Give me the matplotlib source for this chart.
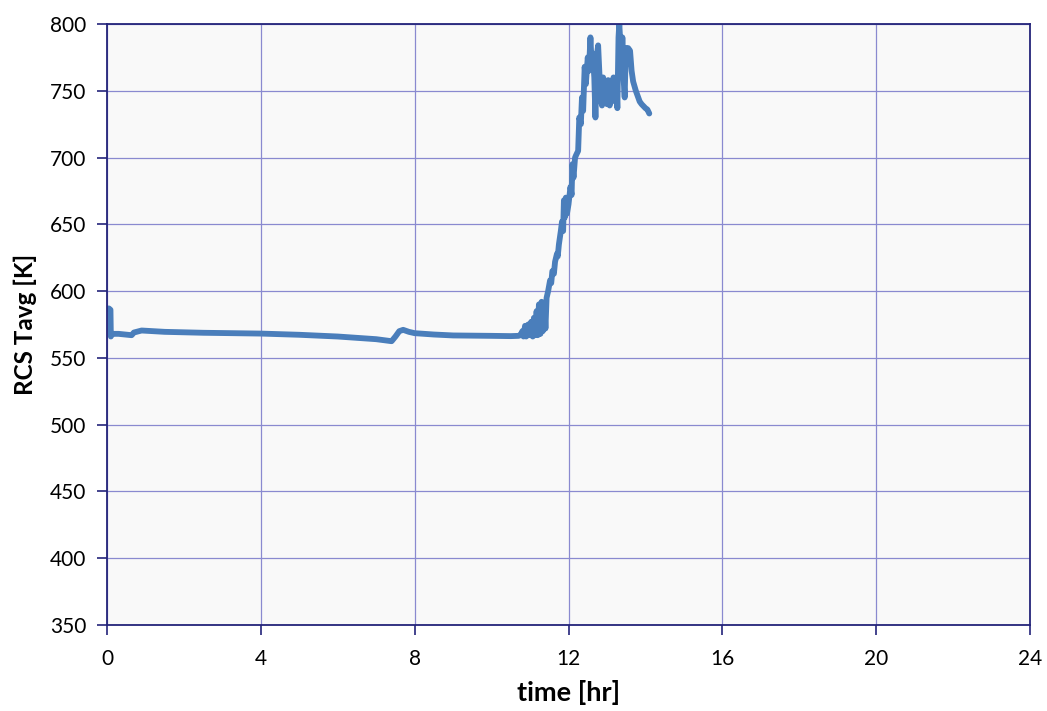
import matplotlib
matplotlib.use("Agg")
import matplotlib.pyplot as plt

plt.rcParams['font.family'] = ['Lato', 'DejaVu Sans']

# time [hr] and RCS average temperature [K]
time_hr = [0.0, 0.05, 0.09, 0.1, 0.13, 0.3, 0.64, 0.7, 0.9, 1.5, 2.5, 4.0, 5.0, 6.0, 7.0, 7.4,
           7.5, 7.6, 7.7, 7.85, 8.0, 8.5, 9.0, 10.0, 10.5, 10.7,
           10.75, 10.8, 10.83, 10.87, 10.9, 10.95, 11.0, 11.03, 11.07, 11.1, 11.13, 11.17,
           11.2, 11.23, 11.27, 11.3, 11.33, 11.37, 11.4, 11.43, 11.47,
           11.52, 11.55, 11.58, 11.62, 11.65, 11.7, 11.72, 11.75, 11.8, 11.83, 11.86, 11.88, 11.9, 11.93, 11.96,
           12.0, 12.05, 12.08, 12.1, 12.13, 12.17, 12.2, 12.25, 12.28, 12.32, 12.35, 12.38,
           12.42, 12.45, 12.5, 12.53, 12.57, 12.6, 12.63, 12.67, 12.7, 12.73, 12.77, 12.8,
           12.83, 12.87, 12.9, 12.93, 12.97, 13.0, 13.03, 13.07, 13.1, 13.13, 13.17, 13.2,
           13.24, 13.27, 13.3, 13.32, 13.35, 13.38, 13.4, 13.43, 13.46, 13.49, 13.52, 13.55,
           13.6, 13.64, 13.68, 13.75, 13.85, 13.9, 14.0, 14.05, 14.1]
tavg_K = [587, 587, 586, 566, 568, 568, 567, 569, 570.5, 569.5, 568.8, 568.2, 567.3, 566, 564, 562.5,
          566, 570, 571, 569.5, 568.5, 567.5, 566.8, 566.5, 566.3, 566.5,
          567, 570, 566, 574, 566, 575, 567, 577, 566, 580, 567, 585,
          567, 590, 568, 592, 570, 591, 572, 595, 600,
          608, 606, 615, 613, 622, 628, 626, 635, 645, 652, 645, 668, 655, 670, 658,
          665, 678, 672, 695, 685, 700, 702, 705, 730, 725, 745, 735,
          768, 755, 775, 765, 790, 770, 778, 760, 730, 775, 784, 765,
          745, 739, 760, 745, 757, 740, 758, 739, 752, 742, 760, 745,
          760, 737, 790, 800, 785, 770, 790, 760, 745, 782, 770, 782,
          780, 765, 757, 750, 742, 740, 737, 736, 733]

x_ticks = [0, 4, 8, 12, 16, 20, 24]
y_ticks = [350, 400, 450, 500, 550, 600, 650, 700, 750, 800]

navy = '#24247a'
fig = plt.figure(figsize=(10.47, 7.11), dpi=100)
ax = fig.add_axes([0.1022, 0.121, 0.8816, 0.8452])
ax.set_facecolor('#f9f9f9')

ax.plot(time_hr, tavg_K, color='#4a7ebb', lw=4.2, solid_joinstyle='round',
        solid_capstyle='round')

ax.set_xlim(0, 24)
ax.set_ylim(350, 800)
ax.set_xticks(x_ticks)
ax.set_yticks(y_ticks)
ax.grid(True, color='#8a8ad0', lw=0.9)
ax.set_axisbelow(True)
for s in ax.spines.values():
    s.set_color(navy)
    s.set_linewidth(1.3)
ax.tick_params(direction='out', length=7, width=1.2, color=navy, labelsize=15)
ax.tick_params(axis='x', pad=10)
ax.tick_params(axis='y', pad=8)

ax.set_xlabel('time [hr]', fontsize=19.5, fontweight='bold', labelpad=8)
ax.set_ylabel('RCS Tavg [K]', fontsize=17.5, fontweight='bold', labelpad=9)

fig.savefig('out.png', dpi=100)
